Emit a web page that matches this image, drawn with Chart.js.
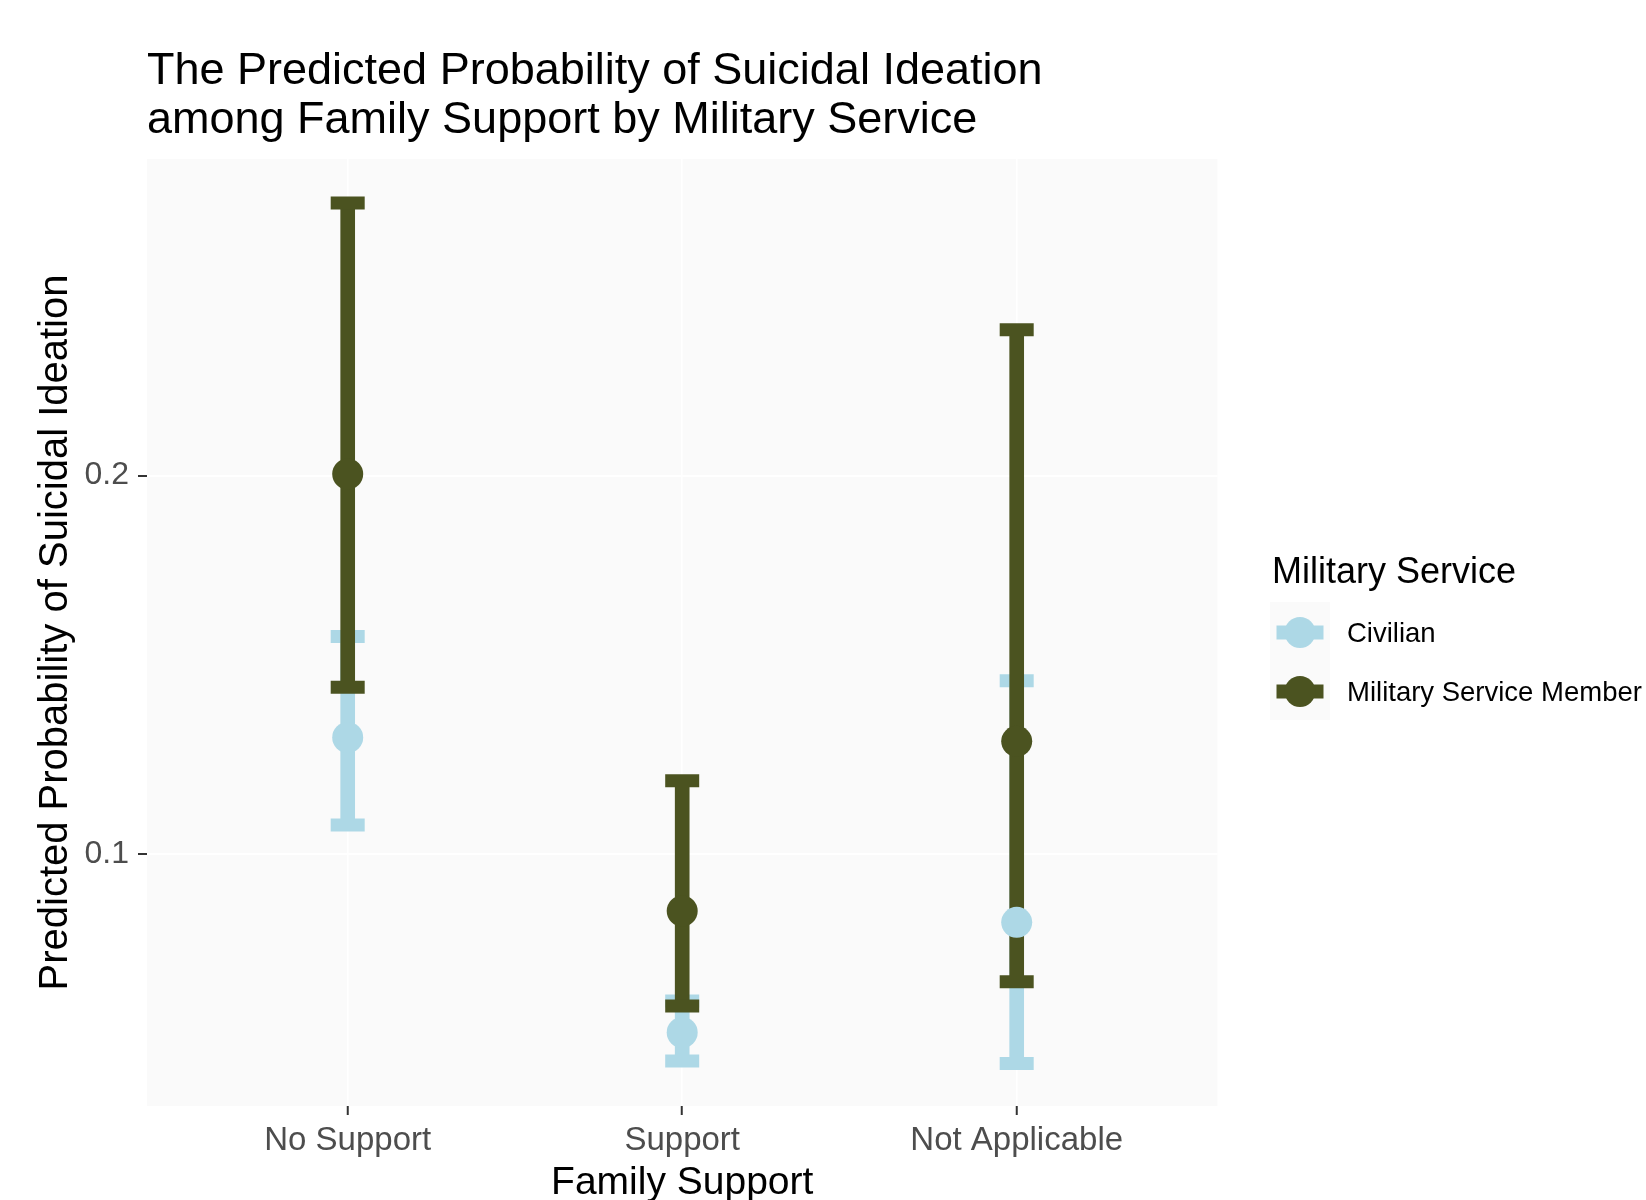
<!DOCTYPE html>
<html>
<head>
<meta charset="utf-8">
<script src="https://cdn.jsdelivr.net/npm/chart.js@4.4.1/dist/chart.umd.min.js"></script>
<style>
  html, body { margin: 0; padding: 0; background: #ffffff; }
  canvas { display: block; }
</style>
</head>
<body>
<canvas id="chart" width="1646" height="1200"></canvas>
<script>
// Family support groups on the x axis
const categories = ['No Support', 'Support', 'Not Applicable'];

// Predicted probabilities with lower / upper confidence limits
const civilianEstimate = [0.1308, 0.0529, 0.0820];
const civilianLower    = [0.1077, 0.0454, 0.0447];
const civilianUpper    = [0.1575, 0.0612, 0.1458];

const militaryEstimate = [0.2004, 0.0850, 0.1298];
const militaryLower    = [0.1441, 0.0599, 0.0663];
const militaryUpper    = [0.2720, 0.1194, 0.2385];

// Labelled y ticks
const yTicks = [0.1, 0.2];

const FONT = "'Liberation Sans', Arial, Helvetica, sans-serif";
const CIVILIAN_COLOR = '#ADD8E6';
const MILITARY_COLOR = '#4B5320';
const PANEL_COLOR = '#FAFAFA';

const series = [
  { name: 'Civilian', color: CIVILIAN_COLOR },
  { name: 'Military Service Member', color: MILITARY_COLOR }
];

const toPoints = values => values.map((v, i) => ({ x: i, y: v }));
const toRanges = (lo, hi) => lo.map((v, i) => ({ x: i, y: [v, hi[i]] }));

function whiskerDataset(lo, hi, color, order) {
  return {
    type: 'bar',
    data: toRanges(lo, hi),
    backgroundColor: color,
    borderWidth: 0,
    barThickness: 14,
    grouped: false,
    order
  };
}

function capDataset(values, color, order) {
  return {
    type: 'line',
    data: toPoints(values),
    showLine: false,
    pointStyle: 'line',
    pointRadius: 17,
    pointBorderWidth: 13,
    pointBorderColor: color,
    pointBackgroundColor: color,
    order
  };
}

function markerDataset(values, color, order) {
  return {
    type: 'line',
    data: toPoints(values),
    showLine: false,
    pointStyle: 'circle',
    pointRadius: 15.5,
    pointBorderWidth: 0,
    pointBackgroundColor: color,
    pointBorderColor: color,
    order
  };
}

// Light panel behind the plotting region
const panelBackground = {
  id: 'panelBackground',
  beforeDraw(chart) {
    const { ctx, chartArea: a } = chart;
    ctx.save();
    ctx.fillStyle = '#ffffff';
    ctx.fillRect(0, 0, chart.width, chart.height);
    ctx.fillStyle = PANEL_COLOR;
    ctx.fillRect(a.left, a.top, a.right - a.left, a.bottom - a.top);
    ctx.restore();
  }
};

// Legend with point-range keys
const pointRangeLegend = {
  id: 'pointRangeLegend',
  afterDraw(chart) {
    const { ctx } = chart;
    ctx.save();
    ctx.fillStyle = '#000000';
    ctx.textBaseline = 'middle';
    ctx.textAlign = 'left';
    ctx.font = `36px ${FONT}`;
    ctx.fillText('Military Service', 1272, 573);

    const keyLeft = 1270, keyTop = 602, keyW = 60, keyH = 59;
    ctx.fillStyle = PANEL_COLOR;
    ctx.fillRect(keyLeft, keyTop, keyW, keyH * series.length);

    series.forEach((s, i) => {
      const cy = keyTop + keyH * i + keyH / 2 + 1;
      const cx = keyLeft + keyW / 2;
      ctx.fillStyle = s.color;
      ctx.fillRect(cx - 23.5, cy - 7, 47, 14);
      ctx.beginPath();
      ctx.arc(cx, cy, 15.4, 0, Math.PI * 2);
      ctx.fill();
      ctx.fillStyle = '#000000';
      ctx.font = `27.5px ${FONT}`;
      ctx.fillText(s.name, 1347, cy + 2);
    });
    ctx.restore();
  }
};

new Chart(document.getElementById('chart'), {
  type: 'bar',
  data: {
    datasets: [
      whiskerDataset(civilianLower, civilianUpper, CIVILIAN_COLOR, 8),
      capDataset(civilianLower, CIVILIAN_COLOR, 7),
      capDataset(civilianUpper, CIVILIAN_COLOR, 7),
      whiskerDataset(militaryLower, militaryUpper, MILITARY_COLOR, 6),
      capDataset(militaryLower, MILITARY_COLOR, 5),
      capDataset(militaryUpper, MILITARY_COLOR, 5),
      markerDataset(civilianEstimate, CIVILIAN_COLOR, 2),
      markerDataset(militaryEstimate, MILITARY_COLOR, 1)
    ]
  },
  options: {
    responsive: false,
    animation: false,
    events: [],
    layout: { padding: { left: 0, right: 428.6, top: 0, bottom: 0 } },
    plugins: {
      legend: { display: false },
      tooltip: { enabled: false },
      title: {
        display: true,
        text: ['The Predicted Probability of Suicidal Ideation', 'among Family Support by Military Service'],
        align: 'start',
        fullSize: false,
        color: '#000000',
        font: { family: FONT, size: 45, weight: 'normal', lineHeight: 1.08 },
        padding: { top: 47.7, bottom: 14.1 }
      }
    },
    scales: {
      x: {
        type: 'linear',
        min: -0.6,
        max: 2.6,
        offset: false,
        afterBuildTicks: s => { s.ticks = categories.map((c, i) => ({ value: i })); },
        afterFit: s => { s.height = 94; },
        ticks: {
          callback: v => categories[v],
          color: '#4D4D4D',
          font: { family: FONT, size: 33 },
          padding: 6,
          maxRotation: 0,
          autoSkip: false
        },
        grid: {
          offset: false,
          color: '#FFFFFF',
          lineWidth: 1.5,
          drawTicks: true,
          tickLength: 9,
          tickColor: '#333333',
          tickWidth: 2
        },
        border: { display: false },
        title: {
          display: true,
          text: 'Family Support',
          color: '#000000',
          font: { family: FONT, size: 39, lineHeight: 1 },
          padding: { top: 0, bottom: -3 }
        }
      },
      y: {
        type: 'linear',
        min: 0.0335,
        max: 0.2836,
        afterBuildTicks: s => { s.ticks = yTicks.map(v => ({ value: v })); },
        afterFit: s => { s.width = 147; },
        ticks: {
          callback: v => v.toFixed(1),
          color: '#4D4D4D',
          font: { family: FONT, size: 32 },
          padding: 9,
          autoSkip: false
        },
        grid: {
          color: '#FFFFFF',
          lineWidth: 2,
          drawTicks: true,
          tickLength: 9,
          tickColor: '#333333',
          tickWidth: 2
        },
        border: { display: false },
        title: {
          display: true,
          text: 'Predicted Probability of Suicidal Ideation',
          color: '#000000',
          font: { family: FONT, size: 40, lineHeight: 1 },
          padding: { top: 36, bottom: 0 }
        }
      }
    }
  },
  plugins: [panelBackground, pointRangeLegend]
});
</script>
</body>
</html>
